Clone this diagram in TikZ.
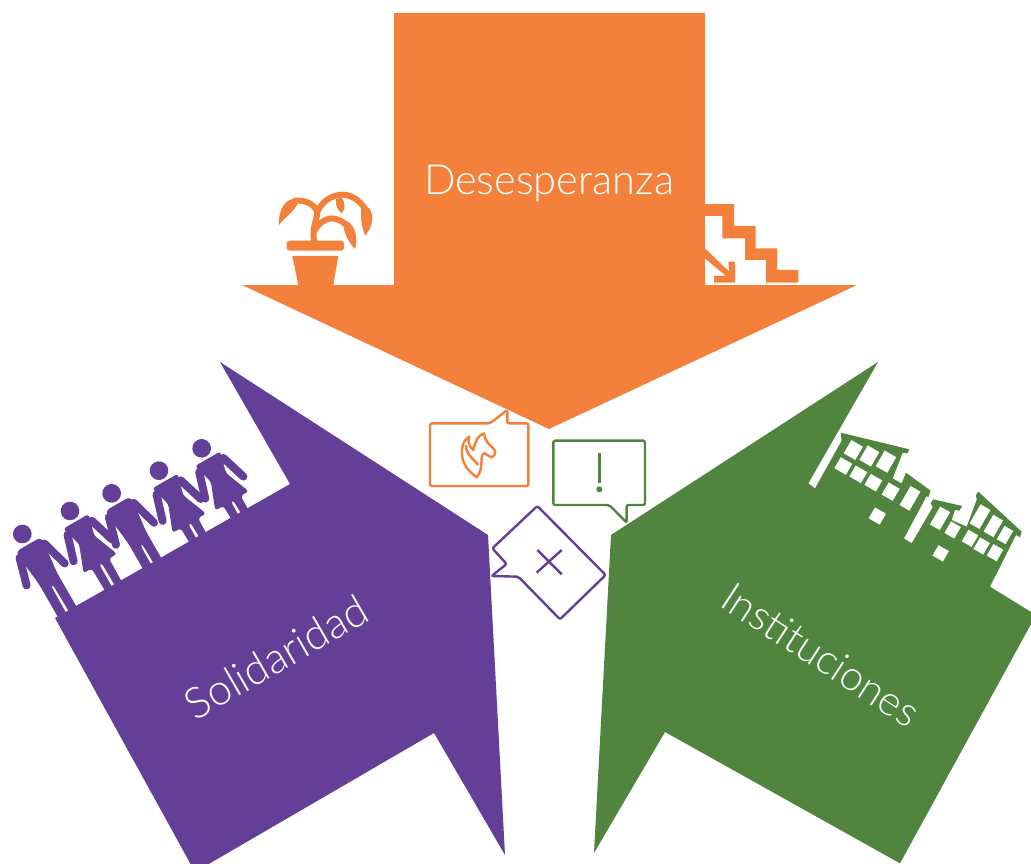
\documentclass[tikz,border=0pt]{standalone}
\usepackage{fontspec}
\setmainfont{Lato}[UprightFont=* Light]
\definecolor{oran}{HTML}{F4813B}
\definecolor{purp}{HTML}{633F97}
\definecolor{gree}{HTML}{50843F}
\tikzset{
  label text/.style={text=white,font=\fontsize{41.5}{44}\selectfont,inner sep=0pt},
  bubble/.style={line width=2.4pt,rounded corners=2pt,fill=white},
  stem/.style={draw=oran,line width=6pt,line cap=round},
}
\newcommand\win[4]{\fill[white,shift={(#1,#2)},rotate=-30] (-#3,-#4) rectangle (#3,#4);}
\newcommand\manfig[2]{\begin{scope}[shift={(#1,#2)},rotate=30]
  \fill[purp] (0,0) circle (28);
  \fill[purp,rounded corners=6pt] (-46,36) -- (46,36) -- (32,150) -- (32,290) -- (5,290) -- (3,170) -- (-3,170) -- (-5,290) -- (-32,290) -- (-32,150) -- cycle;
  \draw[purp,line width=8pt,line cap=round] (-43,58) -- (-66,140) (43,58) -- (66,140);
\end{scope}}
\newcommand\womfig[2]{\begin{scope}[shift={(#1,#2)},rotate=30]
  \fill[purp] (0,0) circle (28);
  \fill[purp,rounded corners=3pt] (-44,36) -- (44,36) -- (26,100) -- (58,182) -- (30,182) -- (28,290) -- (5,290) -- (4,182) -- (-4,182) -- (-5,290) -- (-28,290) -- (-30,182) -- (-58,182) -- (-26,100) -- cycle;
  \draw[purp,line width=8pt,line cap=round] (-42,58) -- (-66,136) (42,58) -- (66,136);
\end{scope}}
\begin{document}
\begin{tikzpicture}[x=1pt,y=-1pt]
\useasboundingbox (0,0) rectangle (1031,864);
\clip (0,0) rectangle (1031,864);
% orange arrow
\fill[oran] (394,13) -- (705,13) -- (705,285) -- (857,285) -- (549,429) -- (242,285) -- (394,285) -- cycle;
% plant
\begin{scope}[shift={(230,170)},scale=1/3]
  \fill[oran,rounded corners=3pt] (170,212) rectangle (342,242);
  \fill[oran] (187,258) -- (325,258) -- (310,345) -- (205,345) -- cycle;
  \draw[stem] (252,212) .. controls (245,170) and (262,150) .. (262,125) .. controls (250,100) and (225,90) .. (195,92);
  \draw[stem] (262,125) .. controls (280,85) and (320,70) .. (350,75) .. controls (380,82) and (400,105) .. (410,125);
  \draw[stem] (252,185) .. controls (270,150) and (300,140) .. (320,148) .. controls (335,152) and (345,160) .. (352,170);
  \fill[oran] (200,86) .. controls (170,85) and (145,110) .. (147,165) .. controls (165,140) and (195,125) .. (205,95) -- cycle;
  \fill[oran] (395,110) .. controls (390,140) and (395,170) .. (405,197) .. controls (425,175) and (435,140) .. (418,115) -- cycle;
  \fill[oran] (340,155) .. controls (340,190) and (355,215) .. (375,237) .. controls (385,205) and (375,170) .. (355,155) -- cycle;
  \fill[oran] (318,88) .. controls (315,105) and (322,120) .. (335,130) .. controls (348,115) and (345,98) .. (335,82) -- cycle;
\end{scope}
% stairs
\begin{scope}[shift={(690,190)},scale=1/3]
  \fill[oran] (45,42) -- (132,42) -- (132,108) -- (197,108) -- (197,175) -- (262,175) -- (262,240) -- (325,240) -- (325,278) -- (228,278) -- (228,210) -- (165,210) -- (165,145) -- (97,145) -- (97,78) -- (45,78) -- cycle;
  \fill[oran] (45,175) -- (118,245) -- (115,215) -- (135,215) -- (135,278) -- (72,278) -- (72,258) -- (108,258) -- (45,205) -- cycle;
\end{scope}
% purple arrow
\fill[purp] (220,362) -- (488,535) -- (505,855) -- (434,733) -- (195,872) -- (55,618) -- (290,484) -- cycle;
% people
\begin{scope}[shift={(0,430)},scale=1/3]
  \manfig{67}{312}
  \womfig{210}{243}
  \manfig{335}{190}
  \womfig{477}{122}
  \womfig{605}{55}
\end{scope}
% green arrow with buildings
\begin{scope}[shift={(800,420)},scale=1/3]
  \fill[gree] (234,-174) -- (-567,345) -- (-618,1299) -- (-405,936) -- (300,1330) -- (708,585)
   -- (570,500) -- (648,345) -- (660,352) -- (665,335) -- (535,215) -- (528,225) -- (530,240) -- (500,320) -- (455,300) -- (465,270) -- (478,272) -- (487,258) -- (400,238) -- (392,250) -- (398,262) -- (335,370) -- (312,355) -- (380,228) -- (385,232) -- (392,212) -- (318,158) -- (305,190) -- (278,175) -- (308,98) -- (322,100) -- (328,88) -- (122,38) -- (125,62) -- (45,205) -- (25,190) -- cycle;
  \win{160}{90}{20}{23}
  \win{208}{108}{20}{25}
  \win{258}{125}{20}{27}
  \win{130}{138}{20}{19}
  \win{175}{163}{20}{19}
  \win{220}{188}{20}{19}
  \win{272}{215}{19}{21}
  \win{330}{235}{17}{33}
  \win{232}{288}{19}{19}
  \win{420}{295}{17}{31}
  \win{458}{330}{17}{20}
  \win{510}{355}{17}{20}
  \win{545}{378}{17}{20}
  \win{585}{398}{17}{20}
  \win{540}{290}{17}{33}
  \win{580}{318}{17}{29}
  \win{615}{345}{15}{23}
  \win{422}{400}{18}{18}
\end{scope}
% bubbles
\begin{scope}[shift={(410,400)},scale=1/3]
  \draw[oran,bubble] (60,70) -- (240,70) -- (292,30) -- (292,70) -- (355,70) -- (355,258) -- (60,258) -- cycle;
  \draw[gree,bubble] (430,122) -- (705,122) -- (705,315) -- (650,315) -- (650,368) -- (598,315) -- (430,315) -- cycle;
  \draw[purp,bubble] (382,318) -- (587,525) -- (450,658) -- (325,530) -- (245,528) -- (290,492) -- (247,445) -- cycle;
  \draw[gree,line width=2.4pt] (568,160) -- (568,250);
  \fill[gree] (568,268) circle (9);
  \draw[purp,line width=2.4pt] (380,518) -- (455,450) (382,450) -- (455,523);
  % flame
  \draw[oran,line width=2.4pt,line join=round] (200,232) .. controls (170,210) and (153,185) .. (156,150) .. controls (157,130) and (165,118) .. (178,110) .. controls (172,125) and (178,140) .. (190,150) .. controls (195,125) and (205,105) .. (222,100) .. controls (225,118) and (232,130) .. (245,140) .. controls (258,150) and (260,165) .. (245,172) .. controls (236,172) and (232,162) .. (225,160) .. controls (205,160) and (225,205) .. (200,232) -- cycle;
  \draw[oran,line width=2.4pt] (168,135) .. controls (168,165) and (190,175) .. (205,195);
\end{scope}
% texts
\node[label text] (des) at (549,183) {Desesperanza};
\node[label text,rotate=30,font=\fontsize{43}{45}\selectfont] (sol) at (276,657) {Solidaridad};
\node[label text,rotate=-33] (ins) at (821,655) {Instituciones};
\end{tikzpicture}
\end{document}
